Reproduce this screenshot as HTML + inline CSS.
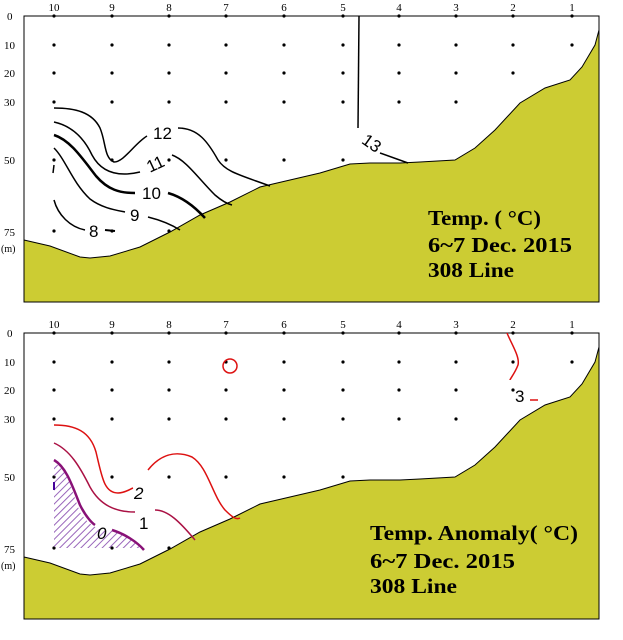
<!DOCTYPE html>
<html><head><meta charset="utf-8"><style>
html,body{margin:0;padding:0;background:#fff;}
svg{display:block;}
.s{font-family:"Liberation Serif",serif;}
.c{font-family:"Liberation Sans",sans-serif;font-size:17px;}
.t{font-family:"Liberation Serif",serif;font-size:21px;font-weight:bold;white-space:pre;}
</style></head><body>
<svg width="623" height="640" viewBox="0 0 623 640" xmlns="http://www.w3.org/2000/svg">
<defs>
<pattern id="h" width="5" height="5" patternUnits="userSpaceOnUse" patternTransform="rotate(45)">
<line x1="0" y1="0" x2="0" y2="5" stroke="#9966bb" stroke-width="2"/>
</pattern>
<g id="base">
<rect x="24" y="16" width="575" height="286" fill="#fff" stroke="#000" stroke-width="1"/>
<path d="M24,240 L50,246 L80,257 L90,258 L110,256 L140,247 L170,232 L200,215 L230,202 L260,187 L290,180 L320,173 L350,164 L370,163 L400,163 L420,162 L455,160 L475,148 L495,130 L520,103 L545,88 L570,80 L582,67 L595,45 L599,30 L599,302 L24,302 Z" fill="#cccc33" stroke="#000" stroke-width="1"/>
<rect x="24" y="16" width="575" height="286" fill="none" stroke="#000" stroke-width="1"/>
<g class="s" font-size="11" text-anchor="middle">
<text x="54" y="11">10</text><text x="112" y="11">9</text><text x="169" y="11">8</text><text x="226" y="11">7</text><text x="284" y="11">6</text><text x="343" y="11">5</text><text x="399" y="11">4</text><text x="456" y="11">3</text><text x="513" y="11">2</text><text x="572" y="11">1</text>
</g>
<g class="s" font-size="11">
<text x="7" y="20">0</text><text x="4" y="49">10</text><text x="4" y="77">20</text><text x="4" y="106">30</text><text x="4" y="164">50</text><text x="4" y="236">75</text><text x="1" y="252" font-size="10">(m)</text>
</g>
<g fill="#000">
<circle cx="54" cy="16" r="1.6"/><circle cx="112" cy="16" r="1.6"/><circle cx="169" cy="16" r="1.6"/><circle cx="226" cy="16" r="1.6"/><circle cx="284" cy="16" r="1.6"/><circle cx="343" cy="16" r="1.6"/><circle cx="399" cy="16" r="1.6"/><circle cx="456" cy="16" r="1.6"/><circle cx="513" cy="16" r="1.6"/><circle cx="572" cy="16" r="1.6"/>
<circle cx="54" cy="45" r="1.6"/><circle cx="112" cy="45" r="1.6"/><circle cx="169" cy="45" r="1.6"/><circle cx="226" cy="45" r="1.6"/><circle cx="284" cy="45" r="1.6"/><circle cx="343" cy="45" r="1.6"/><circle cx="399" cy="45" r="1.6"/><circle cx="456" cy="45" r="1.6"/><circle cx="513" cy="45" r="1.6"/><circle cx="572" cy="45" r="1.6"/>
<circle cx="54" cy="73" r="1.6"/><circle cx="112" cy="73" r="1.6"/><circle cx="169" cy="73" r="1.6"/><circle cx="226" cy="73" r="1.6"/><circle cx="284" cy="73" r="1.6"/><circle cx="343" cy="73" r="1.6"/><circle cx="399" cy="73" r="1.6"/><circle cx="456" cy="73" r="1.6"/><circle cx="513" cy="73" r="1.6"/>
<circle cx="54" cy="102" r="1.6"/><circle cx="112" cy="102" r="1.6"/><circle cx="169" cy="102" r="1.6"/><circle cx="226" cy="102" r="1.6"/><circle cx="284" cy="102" r="1.6"/><circle cx="343" cy="102" r="1.6"/><circle cx="399" cy="102" r="1.6"/><circle cx="456" cy="102" r="1.6"/>
<circle cx="54" cy="160" r="1.6"/><circle cx="112" cy="160" r="1.6"/><circle cx="169" cy="160" r="1.6"/><circle cx="226" cy="160" r="1.6"/><circle cx="284" cy="160" r="1.6"/><circle cx="343" cy="160" r="1.6"/>
<circle cx="54" cy="231" r="1.6"/><circle cx="112" cy="231" r="1.6"/><circle cx="169" cy="231" r="1.6"/>
</g>
</g>
</defs>

<!-- Panel 1 -->
<use href="#base"/>
<g fill="none" stroke="#000" stroke-width="1.5">
<path d="M54,108 C75,108 92,112 100,128 C106,142 104,158 114,162 C124,162 134,144 147,136"/>
<path d="M178,128 C198,128 208,142 218,160 C226,172 240,175 270,186"/>
<path d="M359,16 L358,128"/>
<path d="M380,153 L408,163"/>
<path d="M54,122 C72,126 84,138 92,155 C100,170 115,178 140,172"/>
<path d="M172,155 C186,160 198,178 215,195 C222,201 228,204 232,205"/>
<path d="M54,135 C70,140 82,158 96,176 C108,190 120,193 135,193" stroke-width="2.5"/>
<path d="M168,193 C182,197 195,207 205,218" stroke-width="2.5"/>
<path d="M54,148 C66,160 72,182 90,199 C102,208 115,210 125,212"/>
<path d="M148,217 C160,220 172,225 180,230"/>
<path d="M54,200 C58,215 70,227 85,230"/>
<path d="M105,230 L115,231" stroke-width="2"/>
<path d="M54,165 L53,173"/>
</g>
<g class="c" fill="#000">
<text x="153" y="139">12</text>
<text x="147" y="170" transform="rotate(-25 155 165)">11</text>
<text x="142" y="199">10</text>
<text x="130" y="221">9</text>
<text x="89" y="237">8</text>
<text x="362" y="148" transform="rotate(35 370 143)">13</text>
</g>
<g class="t" fill="#000">
<text x="428" y="225" textLength="113" lengthAdjust="spacingAndGlyphs">Temp. ( °C)</text>
<text x="428" y="252" textLength="144" lengthAdjust="spacingAndGlyphs">6~7  Dec. 2015</text>
<text x="428" y="277" textLength="86" lengthAdjust="spacingAndGlyphs">308 Line</text>
</g>

<!-- Panel 2 -->
<g transform="translate(0,317)">
<use href="#base"/>
<path d="M54,146 C68,152 72,175 80,195 C88,208 100,215 112,213 C125,218 135,225 140,231 L54,231 Z" fill="url(#h)"/>
<g fill="none" stroke-width="1.5">
<path d="M54,108 C75,108 90,114 96,135 C102,160 104,176 118,176 C125,176 130,172 133,171" stroke="#dd1111"/>
<path d="M148,153 C160,138 175,133 192,140 C208,150 212,178 225,193 C232,200 236,203 240,201" stroke="#dd1111"/>
<path d="M54,126 C70,133 80,150 90,170 C100,188 115,195 135,195" stroke="#aa1144"/>
<path d="M155,193 C168,193 180,205 195,223" stroke="#aa1144"/>
<path d="M54,143 C66,150 72,168 80,188 C86,200 92,206 95,208" stroke="#881177" stroke-width="2.5"/>
<path d="M112,213 C125,217 137,225 144,233" stroke="#881177" stroke-width="2.5"/>
<path d="M54,165 L54,173" stroke="#440099" stroke-width="2"/>
<circle cx="230" cy="49" r="7" stroke="#dd1111"/>
<path d="M507,16 C512,28 520,40 518,48 C515,56 510,62 510,63" stroke="#dd1111"/>
<path d="M530,83 L538,83" stroke="#dd1111"/>
</g>
<g class="c" fill="#000">
<text x="134" y="182" font-style="italic">2</text>
<text x="139" y="212">1</text>
<text x="97" y="222" font-style="italic">0</text>
<text x="515" y="85">3</text>
</g>
<g class="t" fill="#000">
<text x="370" y="223" textLength="208" lengthAdjust="spacingAndGlyphs">Temp. Anomaly( °C)</text>
<text x="370" y="251" textLength="145" lengthAdjust="spacingAndGlyphs">6~7  Dec. 2015</text>
<text x="370" y="276" textLength="87" lengthAdjust="spacingAndGlyphs">308 Line</text>
</g>
</g>
</svg>
</body></html>
